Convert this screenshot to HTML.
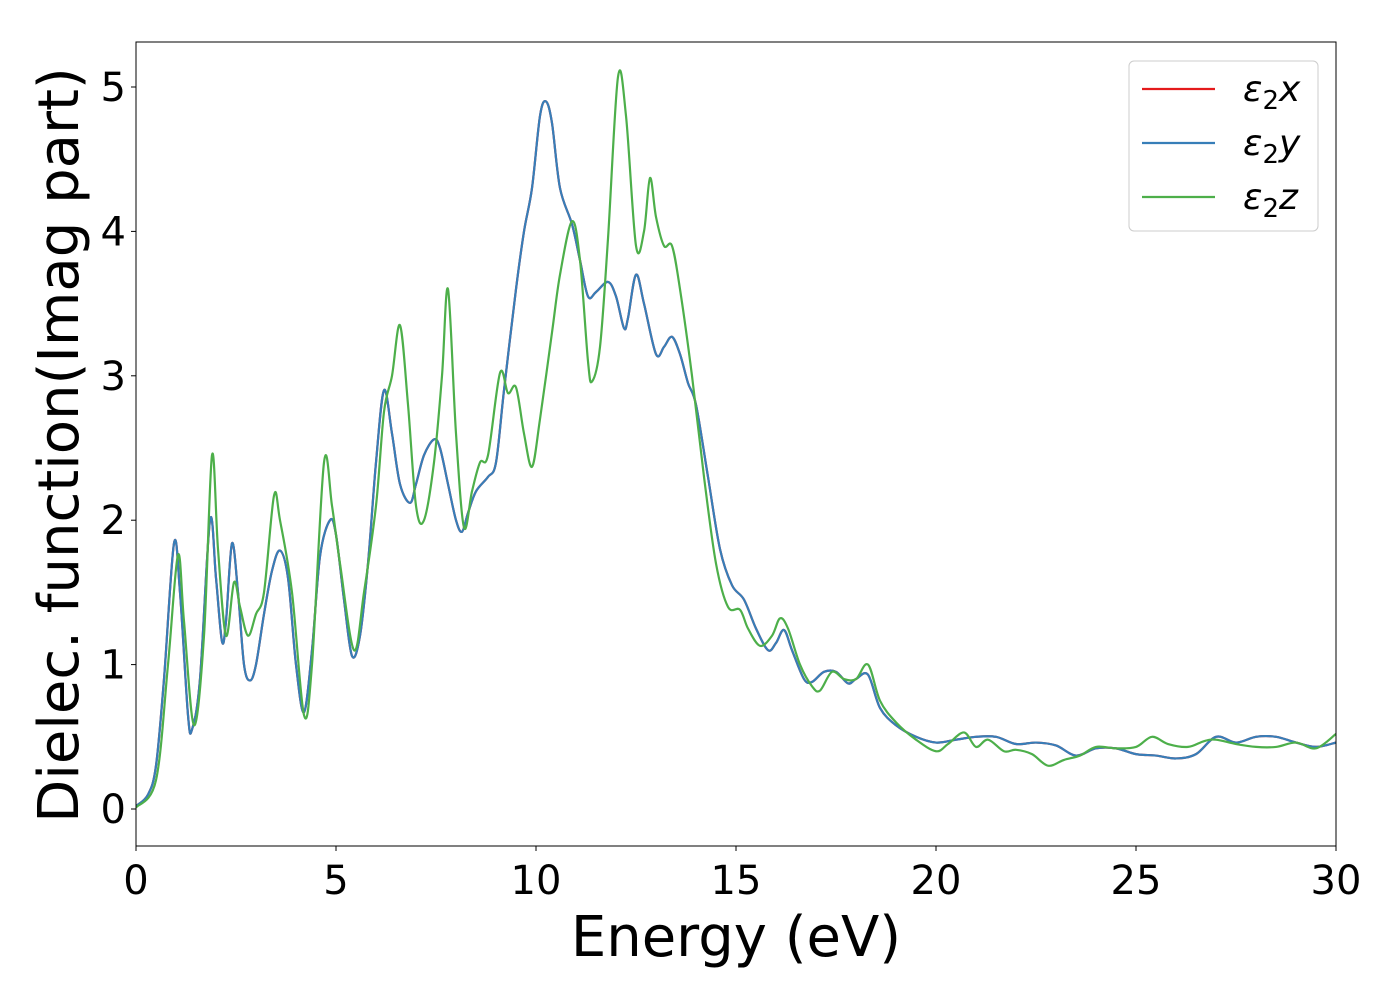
<!DOCTYPE html>
<html><head><meta charset="utf-8"><style>
body{margin:0;background:#fff}
svg text{font-family:"DejaVu Sans","Liberation Sans",sans-serif}
</style></head><body>
<svg id="chart" width="1400" height="1000" viewBox="0 0 1400 1000" xmlns="http://www.w3.org/2000/svg">
<g id="plot"></g>
</svg>
<script>
const xyEnergy=[0,0.3,0.5,0.7,0.95,1.1,1.3,1.4,1.6,1.85,2.0,2.15,2.25,2.4,2.55,2.7,2.85,3.0,3.2,3.4,3.6,3.8,4.0,4.2,4.4,4.6,4.85,5.0,5.2,5.4,5.6,5.8,6.0,6.2,6.4,6.6,6.85,7.0,7.2,7.45,7.6,7.8,8.0,8.15,8.3,8.5,8.8,9.0,9.2,9.5,9.7,9.9,10.1,10.25,10.4,10.6,10.9,11.1,11.3,11.5,11.8,12.0,12.2,12.3,12.5,12.7,13.0,13.2,13.4,13.6,13.8,14.0,14.3,14.6,14.9,15.2,15.5,15.8,16.0,16.2,16.4,16.7,16.9,17.2,17.5,17.8,18.0,18.3,18.6,19.0,19.5,20.0,20.5,21.0,21.5,22.0,22.5,23.0,23.5,24.0,24.5,25.0,25.5,26.0,26.5,27.0,27.5,28.0,28.5,29.0,29.5,30];
const xyValues=[0.02,0.1,0.3,0.9,1.84,1.5,0.65,0.55,0.9,2.0,1.6,1.16,1.3,1.84,1.5,1.0,0.89,1.0,1.35,1.65,1.79,1.6,1.0,0.67,1.1,1.75,2.0,1.9,1.45,1.06,1.2,1.7,2.4,2.9,2.6,2.25,2.12,2.25,2.45,2.56,2.5,2.25,2.0,1.92,2.05,2.2,2.3,2.4,2.9,3.6,4.0,4.3,4.8,4.9,4.75,4.3,4.05,3.8,3.55,3.58,3.65,3.55,3.33,3.4,3.7,3.5,3.15,3.2,3.27,3.15,2.95,2.8,2.3,1.8,1.55,1.45,1.25,1.1,1.15,1.24,1.1,0.9,0.88,0.95,0.95,0.87,0.9,0.93,0.7,0.58,0.5,0.46,0.48,0.5,0.5,0.45,0.46,0.44,0.37,0.42,0.42,0.38,0.37,0.35,0.38,0.5,0.46,0.5,0.5,0.46,0.43,0.46];
const zEnergy=[0,0.5,0.8,1.05,1.2,1.45,1.7,1.9,2.05,2.25,2.45,2.6,2.8,3.0,3.2,3.45,3.6,3.9,4.2,4.4,4.7,4.9,5.1,5.45,5.7,6.0,6.2,6.4,6.6,6.8,7.0,7.2,7.45,7.65,7.8,8.0,8.2,8.4,8.6,8.8,9.1,9.3,9.5,9.7,9.9,10.1,10.4,10.6,10.9,11.1,11.3,11.4,11.6,11.8,12.05,12.25,12.5,12.7,12.85,13.0,13.2,13.4,13.6,13.9,14.2,14.5,14.8,15.1,15.3,15.6,15.9,16.1,16.3,16.6,16.9,17.1,17.4,17.7,18.0,18.3,18.6,19.0,19.5,20.0,20.3,20.7,21.0,21.3,21.7,22.0,22.4,22.8,23.2,23.6,24.0,24.5,25.0,25.4,25.8,26.3,26.7,27.0,27.5,28.0,28.5,29.0,29.5,30];
const zValues=[0.01,0.2,1.0,1.76,1.3,0.58,1.2,2.45,1.8,1.2,1.57,1.4,1.2,1.35,1.5,2.17,2.0,1.5,0.65,1.0,2.4,2.1,1.7,1.1,1.5,2.1,2.75,3.0,3.35,2.8,2.1,2.0,2.4,3.0,3.6,2.6,1.95,2.2,2.4,2.45,3.02,2.88,2.92,2.6,2.37,2.7,3.3,3.7,4.07,3.8,3.1,2.96,3.2,3.95,5.07,4.8,3.9,4.0,4.37,4.1,3.9,3.9,3.6,3.0,2.3,1.7,1.4,1.38,1.25,1.13,1.2,1.32,1.25,1.0,0.85,0.82,0.95,0.9,0.9,1.0,0.75,0.6,0.48,0.4,0.45,0.53,0.43,0.48,0.40,0.41,0.38,0.3,0.34,0.37,0.43,0.42,0.43,0.5,0.45,0.43,0.47,0.48,0.45,0.43,0.43,0.46,0.42,0.52];
const xTicks=[0,5,10,15,20,25,30];
const yTicks=[0,1,2,3,4,5];
const legendLabels=["x","y","z"];

const L=136,R=1336,T=42,B=846;
const xs=v=>L+(v-0)/(30-0)*(R-L);
const ys=v=>809-v*144.4;
const NS="http://www.w3.org/2000/svg";
const g=document.getElementById('plot');
function mk(tag,attrs,parent){const e=document.createElementNS(NS,tag);for(const k in attrs)e.setAttribute(k,attrs[k]);(parent||g).appendChild(e);return e;}
function pathFor(X,Y){
  const p=X.map((x,i)=>[xs(x),ys(Y[i])]);
  let d="M"+p[0][0]+","+p[0][1];
  for(let i=0;i<p.length-1;i++){
    const p0=p[Math.max(0,i-1)],p1=p[i],p2=p[i+1],p3=p[Math.min(p.length-1,i+2)];
    const c1x=p1[0]+(p2[0]-p0[0])/6,c1y=p1[1]+(p2[1]-p0[1])/6;
    const c2x=p2[0]-(p3[0]-p1[0])/6,c2y=p2[1]-(p3[1]-p1[1])/6;
    d+=` C${c1x},${c1y} ${c2x},${c2y} ${p2[0]},${p2[1]}`;
  }
  return d;
}
const defs=mk('defs',{});
const cp=mk('clipPath',{id:'clip'},defs);
mk('rect',{x:L,y:T,width:R-L,height:B-T},cp);
const series=[[xyEnergy,xyValues,'#e41a1c','series-x'],[xyEnergy,xyValues,'#377eb8','series-y'],[zEnergy,zValues,'#4daf4a','series-z']];
const sg=mk('g',{'clip-path':'url(#clip)'});
series.forEach(s=>{
  const e=mk('path',{d:pathFor(s[0],s[1]),fill:'none',stroke:s[2],'stroke-width':2.2},sg);
  
  
});
const frame=mk('rect',{x:L,y:T,width:R-L,height:B-T,fill:'none',stroke:'#000','stroke-width':1});


xTicks.forEach(t=>{
  mk('line',{x1:xs(t),x2:xs(t),y1:B,y2:B+5,stroke:'#000'});
  const e=mk('text',{x:xs(t),y:B+48,'text-anchor':'middle','font-size':40});
  e.textContent=t;
  
  
});
yTicks.forEach(t=>{
  mk('line',{x1:L-5,x2:L,y1:ys(t),y2:ys(t),stroke:'#000'});
  const e=mk('text',{x:L-10,y:ys(t)+14,'text-anchor':'end','font-size':40});
  e.textContent=t;
  
  
});
const xt=mk('text',{x:736,y:956,'text-anchor':'middle','font-size':56});
xt.textContent='Energy (eV)';


const yt=mk('text',{x:0,y:0,'text-anchor':'middle','font-size':56,transform:'translate(78,445) rotate(-90)'});
yt.textContent='Dielec. function(Imag part)';


const lg=mk('g',{});


mk('rect',{x:1129,y:61,width:189,height:170,rx:5,fill:'#fff','fill-opacity':0.8,stroke:'#ccc'},lg);
legendLabels.forEach((lab,i)=>{
  const y=89+i*54;
  mk('line',{x1:1142,x2:1215,y1:y,y2:y,stroke:series[i][2],'stroke-width':2.2},lg);
  const t=mk('text',{x:1243,y:y+12,'font-size':36,'font-style':'italic'},lg);
  
  
  t.innerHTML='ε<tspan font-style="normal" font-size="26" dy="8">2</tspan><tspan dy="-8">'+lab+'</tspan>';
});
</script>
</body></html>
